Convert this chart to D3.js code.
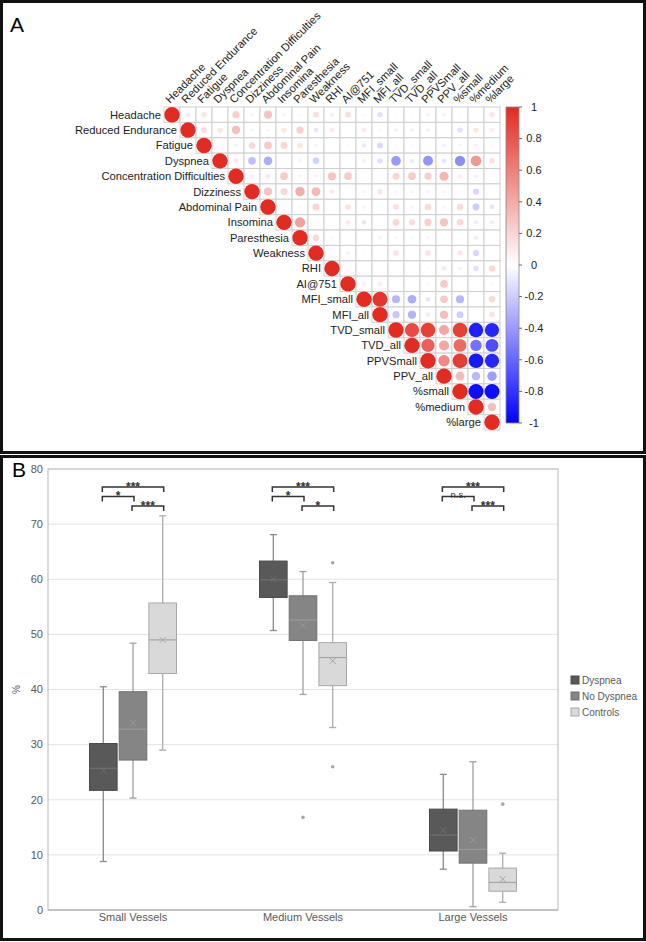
<!DOCTYPE html>
<html><head><meta charset="utf-8">
<script src="https://cdn.jsdelivr.net/npm/d3@7"></script>
<style>body{margin:0;background:#fff} svg{display:block;font-family:"Liberation Sans",Arial,sans-serif}</style>
</head><body><svg id="c" width="646" height="942"></svg>
<script>
// ---------- Panel A data ----------
const vars = ["Headache","Reduced Endurance","Fatigue","Dyspnea","Concentration Difficulties","Dizziness","Abdominal Pain","Insomina","Paresthesia","Weakness","RHI","AI@751","MFI_small","MFI_all","TVD_small","TVD_all","PPVSmall","PPV_all","%small","%medium","%large"];
// upper triangle, row i lists correlations with vars i..20
const corrUpper = [
 [1,-0.08,0.12,0,0.22,0.06,0.28,0.06,0.04,0.15,-0.07,0.15,0.04,-0.12,0.03,0.03,-0.06,-0.06,0.03,0,0.12],
 [1,0.15,0.12,0.3,0.06,-0.04,0.12,0.22,-0.1,0.1,0.02,0.1,0.05,-0.06,-0.06,-0.06,0.02,-0.12,0.12,0.08],
 [1,0,0.06,0.18,0.25,0.2,0.12,0.06,0,0.03,-0.08,-0.15,0.03,-0.03,0,-0.06,0.05,0.07,-0.03],
 [1,0.1,-0.25,-0.32,0,-0.05,-0.18,0,0,-0.06,-0.12,-0.4,-0.08,-0.42,-0.1,-0.45,0.48,0.13],
 [1,0.06,0.1,0.25,0.05,0.06,0.28,0.25,0,0,0.2,0.25,0.22,0.35,0.08,-0.05,0.02],
 [1,0.28,0.2,0.38,0.33,0.1,0.02,0.05,0.12,0.05,-0.04,0.06,0.05,0.02,-0.16,0],
 [1,0,0.04,0.2,0.02,0.13,0.06,0,0.14,0.06,0.18,0.05,0.17,-0.2,-0.1],
 [1,0.45,0,0.02,0.1,-0.1,0.02,0.2,0.16,0.22,0.28,0.18,-0.07,-0.07],
 [1,0.18,0.04,0,0.02,0.06,0.05,-0.03,0.05,0.03,0.02,-0.07,0],
 [1,0,-0.06,0.03,0,0.13,0,0.13,0.02,0.12,-0.16,0.02],
 [1,0.02,0,0,0.02,0.02,0.03,0.1,-0.05,-0.12,0.18],
 [1,0.07,0.08,0.02,0.02,0.04,0.25,0.02,0.02,-0.04],
 [1,0.95,-0.28,-0.32,-0.1,0.25,-0.28,0.02,0.18],
 [1,-0.22,-0.3,-0.08,0.3,-0.2,0.02,0.13],
 [1,0.85,0.9,0.42,0.9,-0.88,-0.85],
 [1,0.75,0.42,0.7,-0.55,-0.7],
 [1,0.55,0.92,-0.9,-0.85],
 [1,0.32,-0.28,-0.38],
 [1,-0.95,-0.95],
 [1,0.3],
 [1]
];
const colorbarTicks = [1,0.8,0.6,0.4,0.2,0,-0.2,-0.4,-0.6,-0.8,-1];

// ---------- Panel B data ----------
const categories = ["Small Vessels","Medium Vessels","Large Vessels"];
const groups = ["Dyspnea","No Dyspnea","Controls"];
// per category: [min, q1, median, q3, max, mean]
const dyspneaStats   = [[8.8,21.7,25.7,30.2,40.5,25.3],[50.7,56.7,59.9,63.3,68.1,60.0],[7.4,10.7,13.6,18.3,24.6,14.5]];
const noDyspneaStats = [[20.3,27.2,32.8,39.6,48.4,33.9],[39.1,48.9,52.6,57.0,61.4,51.6],[0.6,8.5,11.0,18.1,26.9,12.7]];
const controlsStats  = [[29.0,42.9,49.0,55.7,71.5,49.0],[33.1,40.7,45.8,48.5,59.4,45.2],[1.4,3.4,5.0,7.6,10.3,5.6]];
const outlierPoints = [
  {cat:"Medium Vessels", group:"No Dyspnea", v:16.8},
  {cat:"Medium Vessels", group:"Controls", v:63.0},
  {cat:"Medium Vessels", group:"Controls", v:26.0},
  {cat:"Large Vessels", group:"Controls", v:19.2}
];
const yTicks = [0,10,20,30,40,50,60,70,80];
const sigBrackets = [
  {cat:"Small Vessels", a:"Dyspnea", b:"Controls", label:"***", level:0},
  {cat:"Small Vessels", a:"Dyspnea", b:"No Dyspnea", label:"*", level:1},
  {cat:"Small Vessels", a:"No Dyspnea", b:"Controls", label:"***", level:2},
  {cat:"Medium Vessels", a:"Dyspnea", b:"Controls", label:"***", level:0},
  {cat:"Medium Vessels", a:"Dyspnea", b:"No Dyspnea", label:"*", level:1},
  {cat:"Medium Vessels", a:"No Dyspnea", b:"Controls", label:"*", level:2},
  {cat:"Large Vessels", a:"Dyspnea", b:"Controls", label:"***", level:0},
  {cat:"Large Vessels", a:"Dyspnea", b:"No Dyspnea", label:"n.s.", level:1},
  {cat:"Large Vessels", a:"No Dyspnea", b:"Controls", label:"***", level:2}
];

const svg = d3.select("#c");

// ---------- frames ----------
svg.append("rect").attr("x",1.5).attr("y",1.5).attr("width",643).attr("height",451)
  .attr("fill","none").attr("stroke","#111").attr("stroke-width",3);
svg.append("rect").attr("x",1.5).attr("y",456.5).attr("width",643).attr("height",483)
  .attr("fill","none").attr("stroke","#111").attr("stroke-width",3);
svg.append("text").attr("x",10).attr("y",32).attr("font-size",21).attr("fill","#000").text("A");
svg.append("text").attr("x",12).attr("y",477).attr("font-size",21).attr("fill","#000").text("B");

// ---------- Panel A ----------
const xA = d3.scaleBand().domain(vars).range([164,500]);
const yA = d3.scaleBand().domain(vars).range([107,430]);
const col = d3.scaleLinear().domain([-1,0,1]).range(["#0000ff","#ffffff","#e32b21"]);
const rA = d3.scaleSqrt().domain([0,1]).range([0,7.7]);
const cells = [];
corrUpper.forEach((row,i)=>row.forEach((v,k)=>cells.push({r:vars[i],c:vars[i+k],v})));
const gA = svg.append("g");
gA.selectAll("rect.cell").data(cells).join("rect").attr("class","cell")
  .attr("x",d=>xA(d.c)).attr("y",d=>yA(d.r)).attr("width",xA.bandwidth()).attr("height",yA.bandwidth())
  .attr("fill","#fff").attr("stroke","#cfcfcf").attr("stroke-width",1);
gA.selectAll("circle").data(cells).join("circle")
  .attr("cx",d=>xA(d.c)+xA.bandwidth()/2).attr("cy",d=>yA(d.r)+yA.bandwidth()/2)
  .attr("r",d=>rA(Math.abs(d.v))).attr("fill",d=>col(d.v));
gA.selectAll("text.row").data(vars).join("text").attr("class","row")
  .attr("x",d=>xA(d)-3).attr("y",d=>yA(d)+yA.bandwidth()/2).attr("dy","0.35em")
  .attr("text-anchor","end").attr("font-size",11.2).attr("fill","#222").text(d=>d);
gA.selectAll("text.colh").data(vars).join("text").attr("class","colh")
  .attr("transform",d=>`translate(${xA(d)+xA.bandwidth()/2-2},${104}) rotate(-45)`)
  .attr("font-size",11.2).attr("fill","#222").text(d=>d);

// colorbar
const cb = d3.scaleLinear().domain([-1,1]).range([423,107]);
const defs = svg.append("defs");
const grad = defs.append("linearGradient").attr("id","cbg").attr("x1",0).attr("x2",0).attr("y1",1).attr("y2",0);
d3.range(-1,1.0001,0.25).forEach(v=>grad.append("stop").attr("offset",(v+1)/2).attr("stop-color",col(v)));
svg.append("rect").attr("x",506).attr("y",cb(1)).attr("width",13).attr("height",cb(-1)-cb(1))
  .attr("fill","url(#cbg)").attr("stroke","#888").attr("stroke-width",0.8);
const cbAxis = svg.append("g");
cbAxis.selectAll("line").data(colorbarTicks).join("line")
  .attr("x1",519).attr("x2",522).attr("y1",d=>cb(d)).attr("y2",d=>cb(d)).attr("stroke","#666");
cbAxis.selectAll("text").data(colorbarTicks).join("text")
  .attr("x",534).attr("y",d=>cb(d)).attr("dy","0.35em").attr("text-anchor","middle")
  .attr("font-size",11).attr("fill","#222").text(d=>d);

// ---------- Panel B ----------
const yB = d3.scaleLinear().domain([0,80]).range([910,469]);
const xB = d3.scaleBand().domain(categories).range([48,558]);
const inner = d3.scaleBand().domain(groups).range([-43.5,43.5]).paddingInner(0.07);
const statsByGroup = {"Dyspnea":dyspneaStats,"No Dyspnea":noDyspneaStats,"Controls":controlsStats};
const fills = {"Dyspnea":"#595959","No Dyspnea":"#858585","Controls":"#d9d9d9"};
const strokes = {"Dyspnea":"#4a4a4a","No Dyspnea":"#707070","Controls":"#a8a8a8"};
const whisk = {"Dyspnea":"#8a8a8a","No Dyspnea":"#a0a0a0","Controls":"#acacac"};
const medc = {"Dyspnea":"#707070","No Dyspnea":"#9a9a9a","Controls":"#a5a5a5"};

const gB = svg.append("g");
gB.selectAll("line.grid").data(yTicks).join("line").attr("class","grid")
  .attr("x1",48).attr("x2",558).attr("y1",d=>yB(d)).attr("y2",d=>yB(d))
  .attr("stroke","#e4e4e4").attr("stroke-width",1);
gB.append("rect").attr("x",48).attr("y",yB(80)).attr("width",510).attr("height",yB(0)-yB(80))
  .attr("fill","none").attr("stroke","#c4c4c4").attr("stroke-width",1.2);
gB.append("line").attr("x1",48).attr("x2",558).attr("y1",yB(0)).attr("y2",yB(0)).attr("stroke","#b0b0b0");
gB.selectAll("text.yt").data(yTicks).join("text").attr("class","yt")
  .attr("x",43).attr("y",d=>yB(d)).attr("dy","0.35em").attr("text-anchor","end")
  .attr("font-size",11).attr("fill","#595959").text(d=>d);
gB.append("text").attr("transform",`translate(20,${yB(40)}) rotate(-90)`).attr("text-anchor","middle")
  .attr("font-size",10).attr("fill","#595959").text("%");
gB.selectAll("text.xt").data(categories).join("text").attr("class","xt")
  .attr("x",d=>xB(d)+xB.bandwidth()/2).attr("y",921).attr("text-anchor","middle")
  .attr("font-size",11).attr("fill","#595959").text(d=>d);

const boxes = [];
groups.forEach(g=>categories.forEach((c,ci)=>{
  const s = statsByGroup[g][ci];
  boxes.push({g,c,min:s[0],q1:s[1],med:s[2],q3:s[3],max:s[4],mean:s[5]});
}));
const cx = d=>xB(d.c)+xB.bandwidth()/2+inner(d.g)+inner.bandwidth()/2;
const bw = inner.bandwidth();
const bg = gB.selectAll("g.box").data(boxes).join("g").attr("class","box");
bg.append("line").attr("x1",cx).attr("x2",cx).attr("y1",d=>yB(d.max)).attr("y2",d=>yB(d.q3)).attr("stroke",d=>whisk[d.g]).attr("stroke-width",1.3);
bg.append("line").attr("x1",cx).attr("x2",cx).attr("y1",d=>yB(d.q1)).attr("y2",d=>yB(d.min)).attr("stroke",d=>whisk[d.g]).attr("stroke-width",1.3);
bg.append("line").attr("x1",d=>cx(d)-3.5).attr("x2",d=>cx(d)+3.5).attr("y1",d=>yB(d.max)).attr("y2",d=>yB(d.max)).attr("stroke",d=>whisk[d.g]).attr("stroke-width",1.3);
bg.append("line").attr("x1",d=>cx(d)-3.5).attr("x2",d=>cx(d)+3.5).attr("y1",d=>yB(d.min)).attr("y2",d=>yB(d.min)).attr("stroke",d=>whisk[d.g]).attr("stroke-width",1.3);
bg.append("rect").attr("x",d=>cx(d)-bw/2).attr("y",d=>yB(d.q3)).attr("width",bw).attr("height",d=>yB(d.q1)-yB(d.q3))
  .attr("fill",d=>fills[d.g]).attr("stroke",d=>strokes[d.g]).attr("stroke-width",1);
bg.append("line").attr("x1",d=>cx(d)-bw/2).attr("x2",d=>cx(d)+bw/2).attr("y1",d=>yB(d.med)).attr("y2",d=>yB(d.med)).attr("stroke",d=>medc[d.g]).attr("stroke-width",1.2);
bg.append("path").attr("d",d=>{const x=cx(d),y=yB(d.mean);return `M${x-3},${y-3}L${x+3},${y+3}M${x-3},${y+3}L${x+3},${y-3}`;})
  .attr("stroke",d=>medc[d.g]).attr("stroke-width",1);
gB.selectAll("circle.out").data(outlierPoints).join("circle").attr("class","out")
  .attr("cx",d=>xB(d.cat)+xB.bandwidth()/2+inner(d.group)+inner.bandwidth()/2).attr("cy",d=>yB(d.v))
  .attr("r",1.8).attr("fill","#a8a8a8");

// significance brackets
const gxc = (cat,g)=>xB(cat)+xB.bandwidth()/2+inner(g)+inner.bandwidth()/2;
const levelY = l=>487+l*9.5;
const sg = gB.selectAll("g.sig").data(sigBrackets).join("g").attr("class","sig");
sg.append("path").attr("d",d=>{const x1=gxc(d.cat,d.a)-1,x2=gxc(d.cat,d.b)+1,y=levelY(d.level);return `M${x1},${y+5}V${y}H${x2}V${y+5}`;})
  .attr("fill","none").attr("stroke","#333").attr("stroke-width",1.5);
sg.append("text").attr("x",d=>(gxc(d.cat,d.a)+gxc(d.cat,d.b))/2).attr("y",d=>d.label==="n.s."?levelY(d.level)+1:levelY(d.level)+3.5)
  .attr("text-anchor","middle").attr("font-size",d=>d.label==="n.s."?9.5:12).attr("font-weight",d=>d.label==="n.s."?"normal":"bold")
  .attr("fill","#333").text(d=>d.label);

// legend
const lg = svg.append("g").selectAll("g").data(groups).join("g")
  .attr("transform",(d,i)=>`translate(571,${680+i*16})`);
lg.append("rect").attr("x",0).attr("y",-4).attr("width",8).attr("height",8)
  .attr("fill",d=>fills[d]).attr("stroke",d=>strokes[d]);
lg.append("text").attr("x",11).attr("y",0).attr("dy","0.35em").attr("font-size",10).attr("fill","#595959").text(d=>d);
</script>
</body></html>
